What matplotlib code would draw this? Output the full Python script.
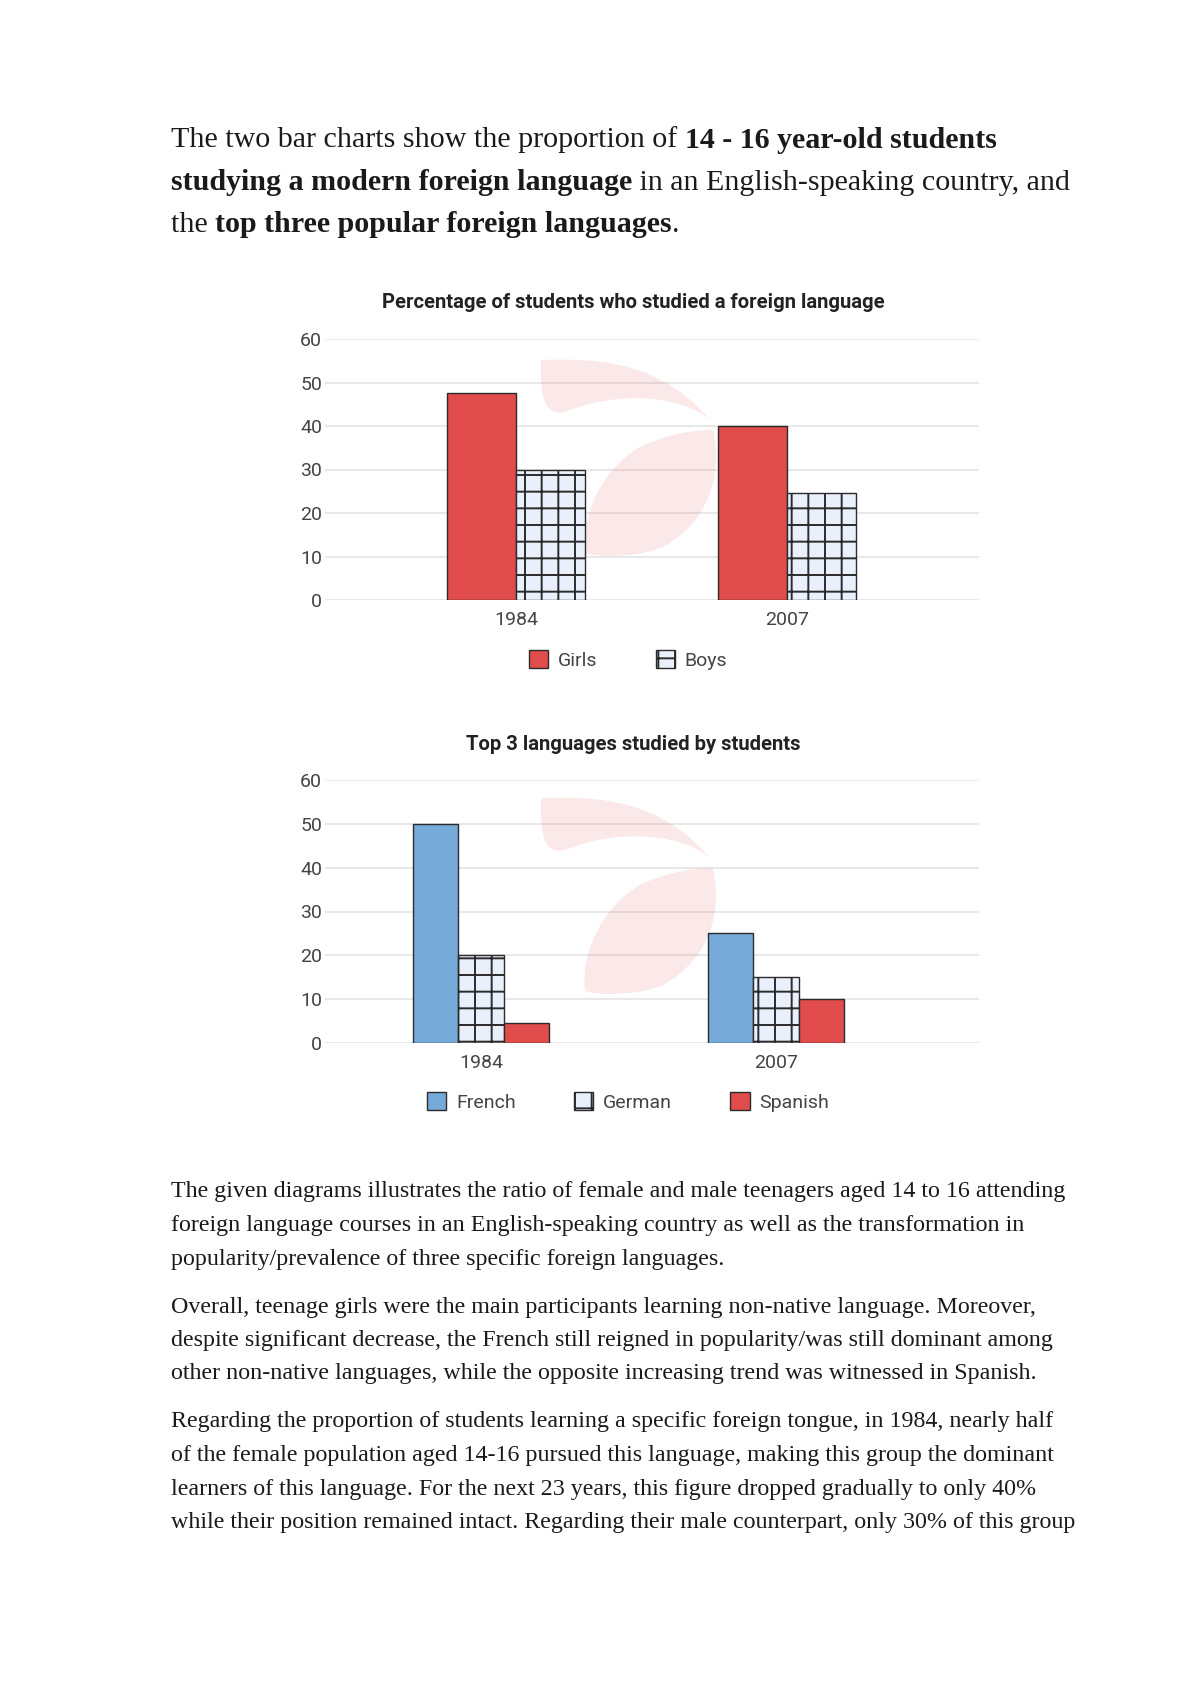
"""Recreate the two-bar-chart essay page."""
import numpy as np
import matplotlib
matplotlib.use("Agg")
import matplotlib.pyplot as plt
from matplotlib.patches import Patch, PathPatch
from matplotlib.path import Path

# ---- data ----
years = ["1984", "2007"]
girls = [47.5, 40]
boys = [30, 24.5]

languages = ["French", "German", "Spanish"]
french = [50, 25]
german = [20, 15]
spanish = [4.5, 10]

y_ticks = [0, 10, 20, 30, 40, 50, 60]

title_top = "Percentage of students who studied a foreign language"
title_bottom = "Top 3 languages studied by students"

heading_lines = [
    [("The two bar charts show the proportion of ", "normal"), ("14 - 16 year-old students", "bold")],
    [("studying a modern foreign language", "bold"), (" in an English-speaking country, and", "normal")],
    [("the ", "normal"), ("top three popular foreign languages", "bold"), (".", "normal")],
]

body_paragraphs = [
    [
        "The given diagrams illustrates the ratio of female and male teenagers aged 14 to 16 attending",
        "foreign language courses in an English-speaking country as well as the transformation in",
        "popularity/prevalence of three specific foreign languages.",
    ],
    [
        "Overall, teenage girls were the main participants learning non-native language. Moreover,",
        "despite significant decrease, the French still reigned in popularity/was still dominant among",
        "other non-native languages, while the opposite increasing trend was witnessed in Spanish.",
    ],
    [
        "Regarding the proportion of students learning a specific foreign tongue, in 1984, nearly half",
        "of the female population aged 14-16 pursued this language, making this group the dominant",
        "learners of this language. For the next 23 years, this figure dropped gradually to only 40%",
        "while their position remained intact. Regarding their male counterpart, only 30% of this group",
    ],
]

RED = "#e04b4b"
BLUE = "#76aad8"
PALE = "#e9f0fb"
EDGE = "#2b2b2b"
GRID = "#e4e4e4"
TICK = "#444444"

plt.rcParams["hatch.linewidth"] = 1.4
plt.rcParams["font.family"] = ["Roboto", "DejaVu Sans"]

W, H = 1200, 1696
fig = plt.figure(figsize=(W / 100, H / 100), dpi=100)
fig.patch.set_facecolor("white")
renderer = fig.canvas.get_renderer()


def fx(px):
    return px / W


def fy(py):
    return 1 - py / H


def draw_runs(x, y, runs, **kw):
    """Draw text runs of mixed weight one after another on a line."""
    for s, weight in runs:
        t = fig.text(x, y, s, fontweight=weight, **kw)
        bb = t.get_window_extent(renderer)
        x += bb.width / W


def add_watermark(ax, dy):
    """Faint pink logo behind the bars (page pixel coords, shifted by dy)."""
    C, M, L, Z = Path.CURVE4, Path.MOVETO, Path.LINETO, Path.CLOSEPOLY
    wing = [(541, 360), (600, 358), (660, 362), (709, 419),
            (680, 396), (620, 390), (565, 412),
            (545, 416), (540, 400), (541, 360), (541, 360)]
    wing_codes = [M, C, C, C, C, C, C, C, C, C, Z]
    leaf = [(713, 430), (722, 470), (712, 520), (663, 547),
            (640, 557), (600, 558), (585, 553),
            (580, 520), (600, 470), (640, 447),
            (665, 435), (690, 430), (713, 430), (713, 430)]
    leaf_codes = [M, C, C, C, C, C, C, C, C, C, C, C, C, Z]
    for pts, codes in ((wing, wing_codes), (leaf, leaf_codes)):
        verts = [(fx(px), fy(py + dy)) for px, py in pts]
        patch = PathPatch(Path(verts, codes), transform=fig.transFigure,
                          facecolor="#e04b4b", alpha=0.12, edgecolor="none",
                          zorder=0.8, clip_on=False)
        ax.add_patch(patch)


# heading
serif = ["Liberation Serif", "DejaVu Serif"]
for i, runs in enumerate(heading_lines):
    draw_runs(fx(171), fy(140 + 42.5 * i), runs, family=serif, fontsize=21.6,
              color="#1a1a1a", va="center")

# body text
line_y = 1192
for para in body_paragraphs:
    for line in para:
        fig.text(fx(171), fy(line_y), line, family=serif, fontsize=17.3,
                 color="#1a1a1a", va="center")
        line_y += 33.5
    line_y += 14.5


def style_axes(ax):
    ax.set_ylim(0, 60)
    ax.set_yticks(y_ticks)
    ax.yaxis.grid(True, color=GRID, linewidth=1.2)
    ax.set_axisbelow(True)
    for sp in ax.spines.values():
        sp.set_visible(False)
    ax.tick_params(axis="both", length=0, labelsize=14, colors=TICK)
    ax.tick_params(axis="y", pad=2)
    ax.tick_params(axis="x", pad=8)


# chart 1
ax1 = fig.add_axes([fx(325), fy(600), fx(979 - 325), (600 - 339) / H])
x1 = np.arange(len(years))
w1 = 0.254
ax1.bar(x1 - w1 / 2, girls, w1, color=RED, edgecolor=EDGE, linewidth=1.0, zorder=2)
ax1.bar(x1 + w1 / 2, boys, w1, color=PALE, edgecolor=EDGE, hatch="+", linewidth=1.0, zorder=2)
ax1.set_xlim(-0.705, 1.71)
ax1.set_xticks(x1)
ax1.set_xticklabels(years)
style_axes(ax1)
add_watermark(ax1, 0)
fig.text(fx(633), fy(302), title_top, ha="center", va="center",
         fontsize=14.6, fontweight="bold", color="#222222")
fig.legend(
    handles=[Patch(facecolor=RED, edgecolor=EDGE, label="Girls"),
             Patch(facecolor=PALE, edgecolor=EDGE, hatch="+", label="Boys")],
    loc="center", bbox_to_anchor=(fx(628), fy(660)), ncol=2, frameon=False,
    fontsize=14, handlelength=1.0, handleheight=1.0, handletextpad=0.5,
    columnspacing=3.0, labelcolor=TICK,
)

# chart 2
ax2 = fig.add_axes([fx(325), fy(1043), fx(979 - 325), (1043 - 780) / H])
x2 = np.arange(len(years))
w2 = 0.153
ax2.bar(x2 - w2, french, w2, color=BLUE, edgecolor=EDGE, linewidth=1.0, zorder=2)
ax2.bar(x2, german, w2, color=PALE, edgecolor=EDGE, hatch="+", linewidth=1.0, zorder=2)
ax2.bar(x2 + w2, spanish, w2, color=RED, edgecolor=EDGE, linewidth=1.0, zorder=2)
ax2.set_xlim(-0.529, 1.688)
ax2.set_xticks(x2)
ax2.set_xticklabels(years)
style_axes(ax2)
add_watermark(ax2, 438)
fig.text(fx(633), fy(745), title_bottom, ha="center", va="center",
         fontsize=14.6, fontweight="bold", color="#222222")
fig.legend(
    handles=[Patch(facecolor=BLUE, edgecolor=EDGE, label=languages[0]),
             Patch(facecolor=PALE, edgecolor=EDGE, hatch="+", label=languages[1]),
             Patch(facecolor=RED, edgecolor=EDGE, label=languages[2])],
    loc="center", bbox_to_anchor=(fx(628), fy(1102)), ncol=3, frameon=False,
    fontsize=14, handlelength=1.0, handleheight=1.0, handletextpad=0.5,
    columnspacing=3.0, labelcolor=TICK,
)

fig.savefig("out.png", dpi=100)
